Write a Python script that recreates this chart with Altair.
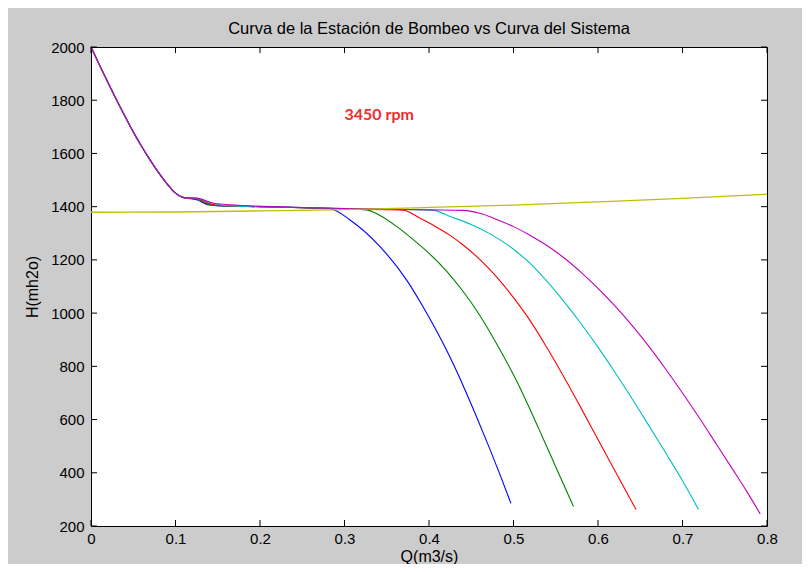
import altair as alt
import pandas as pd

# ---- data ----
common_Q = [0.0, 0.01, 0.02, 0.03, 0.04, 0.05, 0.06, 0.07, 0.08, 0.09, 0.1, 0.11]
common_H = [2000, 1932, 1867, 1803, 1741, 1681, 1626, 1575, 1528, 1486, 1451, 1434]

blue_Q = [0.125, 0.14, 0.16, 0.2, 0.25, 0.283, 0.3065, 0.342, 0.3736, 0.39, 0.405, 0.418,
          0.43, 0.442, 0.455, 0.47, 0.484, 0.497]
blue_H = [1426, 1406, 1402, 1400, 1396, 1392, 1350, 1250, 1124, 1040, 956, 878,
          800, 716, 620, 505, 393, 285]

green_Q = [0.125, 0.14, 0.16, 0.2, 0.25, 0.3, 0.326, 0.342, 0.362, 0.381, 0.401, 0.421,
           0.44, 0.46, 0.48, 0.5, 0.515, 0.53, 0.545, 0.558, 0.571]
green_H = [1429, 1408, 1402, 1400, 1396, 1392, 1388, 1367, 1325, 1277, 1222, 1157,
           1083, 992, 885, 768, 670, 565, 458, 365, 273]

red_Q = [0.125, 0.142, 0.16, 0.2, 0.25, 0.3, 0.35, 0.3696, 0.389, 0.409, 0.425, 0.44,
         0.46, 0.48, 0.5, 0.52, 0.54, 0.56, 0.58, 0.6, 0.62, 0.645]
red_H = [1430, 1410, 1403, 1400, 1396, 1392, 1389, 1387, 1357, 1323, 1292, 1257,
         1202, 1136, 1058, 970, 868, 758, 643, 525, 408, 262]

cyan_Q = [0.125, 0.145, 0.16, 0.2, 0.25, 0.3, 0.35, 0.405, 0.425, 0.45, 0.475, 0.5,
          0.52, 0.54, 0.56, 0.58, 0.6, 0.62, 0.64, 0.66, 0.68, 0.7, 0.719]
cyan_H = [1431, 1412, 1404, 1400, 1397, 1393, 1390, 1386, 1363, 1333, 1293, 1240,
          1186, 1118, 1042, 960, 872, 778, 680, 578, 475, 370, 262]

mag_Q = [0.125, 0.145, 0.157, 0.196, 0.25, 0.3, 0.35, 0.4, 0.44, 0.46, 0.48, 0.5,
         0.52, 0.54, 0.56, 0.58, 0.6, 0.62, 0.64, 0.66, 0.68, 0.7, 0.72, 0.74,
         0.76, 0.776, 0.792]
mag_H = [1432, 1413, 1409, 1402, 1397, 1393, 1391, 1388, 1386, 1375, 1352, 1325,
         1292, 1253, 1207, 1153, 1093, 1027, 955, 876, 790, 700, 606, 508,
         410, 330, 245]

sys_Q = [0.0, 0.1, 0.2, 0.3, 0.4, 0.5, 0.6, 0.7, 0.8]
sys_H = [1379, 1380, 1384, 1389, 1397, 1406, 1418, 1431, 1447]

series_names = ["1", "2", "3", "4", "5"]
series_colors = ["#0000FF", "#008000", "#FF0000", "#00BFBF", "#BF00BF"]
system_color = "#BFBF00"

x_ticks = [0, 0.1, 0.2, 0.3, 0.4, 0.5, 0.6, 0.7, 0.8]
y_ticks = [200, 400, 600, 800, 1000, 1200, 1400, 1600, 1800, 2000]

title_text = "Curva de la Estación de Bombeo vs Curva del Sistema"
x_title = "Q(m3/s)"
y_title = "H(mh2o)"
annot_text = ["3450 rpm"]
annot_Q = [0.3]
annot_H = [1745]

# ---- build tables ----
rows = []
for name, qs, hs in zip(series_names,
                        [blue_Q, green_Q, red_Q, cyan_Q, mag_Q],
                        [blue_H, green_H, red_H, cyan_H, mag_H]):
    for q, h in zip(common_Q + qs, common_H + hs):
        rows.append({"Q": q, "H": h, "serie": name})
pumps = pd.DataFrame(rows)
system = pd.DataFrame({"Q": sys_Q, "H": sys_H})
annot = pd.DataFrame({"Q": annot_Q, "H": annot_H, "t": annot_text})
xt = pd.DataFrame({"Q": x_ticks})
yt = pd.DataFrame({"H": y_ticks})

W, H = 676, 479
FONT = "Liberation Sans"

X = alt.X("Q:Q", scale=alt.Scale(domain=[0, 0.8], nice=False, zero=False),
          axis=alt.Axis(values=x_ticks, format="~g", title=x_title, labelPadding=5,
                        titlePadding=2, labelFlush=False))
Y = alt.Y("H:Q", scale=alt.Scale(domain=[200, 2000], nice=False, zero=False),
          axis=alt.Axis(values=y_ticks, format="d", title=y_title, labelPadding=7,
                        titlePadding=10, labelFlush=False))

lines = alt.Chart(pumps).mark_line(strokeWidth=1.1, interpolate="monotone").encode(
    x=X, y=Y,
    color=alt.Color("serie:N", scale=alt.Scale(domain=series_names, range=series_colors),
                    legend=None),
    detail="serie:N",
)
sysline = alt.Chart(system).mark_line(strokeWidth=1.3, color=system_color,
                                      interpolate="monotone").encode(x=X, y=Y)

label = alt.Chart(annot).mark_text(align="left", baseline="middle", font="Lato",
                                   fontWeight="bold", fontSize=16, color="#EE2C2C").encode(
    x=X, y=Y, text="t:N")

tick_top = alt.Chart(xt).mark_rule(color="black").encode(x=X, y=alt.value(0), y2=alt.value(6))
tick_bot = alt.Chart(xt).mark_rule(color="black").encode(x=X, y=alt.value(H), y2=alt.value(H - 6))
tick_left = alt.Chart(yt).mark_rule(color="black").encode(y=Y, x=alt.value(0), x2=alt.value(6))
tick_right = alt.Chart(yt).mark_rule(color="black").encode(y=Y, x=alt.value(W), x2=alt.value(W - 6))

chart = alt.layer(lines, sysline, label, tick_top, tick_bot, tick_left, tick_right).properties(
    width=W, height=H,
    title=alt.TitleParams(title_text, font=FONT, fontSize=16.5, fontWeight="normal",
                          color="black", anchor="middle", offset=3),
    padding={"left": 83, "top": 39, "right": 35, "bottom": 38},
    autosize=alt.AutoSizeParams(type="none"),
    background="#CCCCCC",
).configure_view(
    fill="white", stroke="black", strokeWidth=1
).configure_axis(
    domain=False, ticks=False, grid=False,
    labelFont=FONT, labelFontSize=15, labelColor="black",
    titleFont=FONT, titleFontSize=16, titleFontWeight="normal", titleColor="black",
)

chart.save("out.html", embed_options={"renderer": "svg", "actions": False})
